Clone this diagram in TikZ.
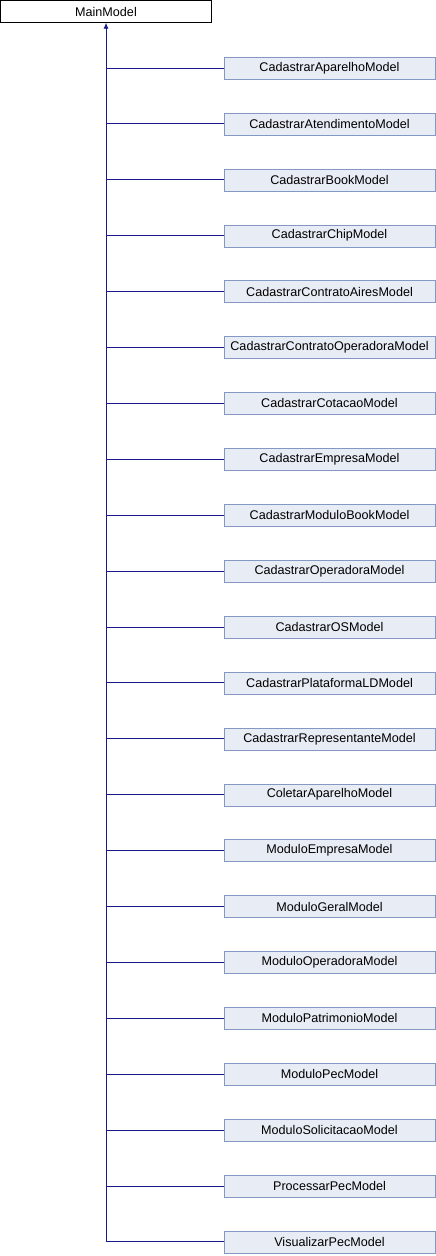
\documentclass[tikz,border=0pt]{standalone}
\usepackage{fontspec}
\setmainfont{Liberation Sans}
\usetikzlibrary{positioning,arrows.meta}
\definecolor{edgeblue}{RGB}{25,25,140}
\definecolor{boxfill}{RGB}{232,236,245}
\definecolor{boxline}{RGB}{132,152,196}

\begin{document}
\begin{tikzpicture}[x=1pt,y=1pt,
		mainbox/.style={draw=black, fill=white, minimum width=211pt, minimum height=22pt, inner sep=0pt, font=\fontsize{12.6}{14}\selectfont},
		classbox/.style={draw=boxline, fill=boxfill, minimum width=211pt, minimum height=22pt, inner sep=0pt, font=\fontsize{12.6}{14}\selectfont},
		edge/.style={draw=edgeblue, line width=0.9pt}]
			\useasboundingbox (0,0) rectangle (436,-1256);
			\node[mainbox] (main) at (106,-11.5) {MainModel};
			\foreach \name [count=\i] in {CadastrarAparelhoModel, CadastrarAtendimentoModel, CadastrarBookModel, CadastrarChipModel, CadastrarContratoAiresModel, CadastrarContratoOperadoraModel, CadastrarCotacaoModel, CadastrarEmpresaModel, CadastrarModuloBookModel, CadastrarOperadoraModel, CadastrarOSModel, CadastrarPlataformaLDModel, CadastrarRepresentanteModel, ColetarAparelhoModel, ModuloEmpresaModel, ModuloGeralModel, ModuloOperadoraModel, ModuloPatrimonioModel, ModuloPecModel, ModuloSolicitacaoModel, ProcessarPecModel, VisualizarPecModel}
			{
				\node[classbox] (c\i) at (329.5,{-12.1-55.9*\i}) {\name};
				\draw[edge] (main.south |- c\i.west) -- (c\i.west);
			}
			\coordinate (trunk) at (main.south |- c22.west);
			\draw[edge, -{Latex[length=6pt,width=5pt]}] (trunk) -- (main.south);
		\end{tikzpicture}
\end{document}
